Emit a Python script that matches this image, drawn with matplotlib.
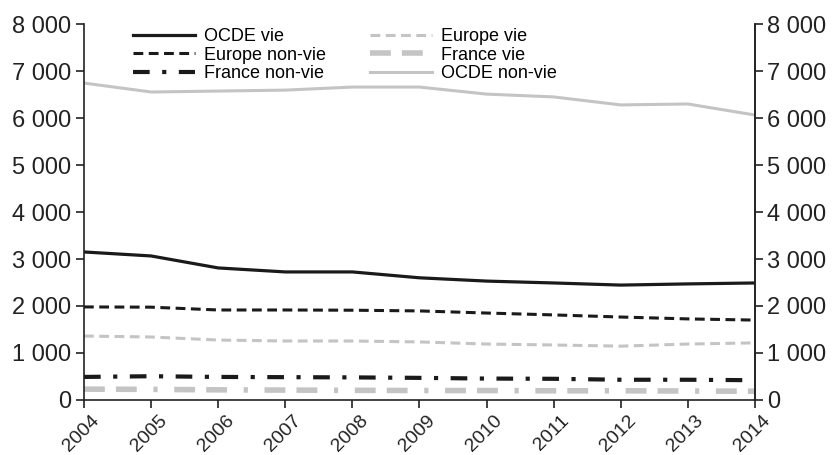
import matplotlib.pyplot as plt
from matplotlib.ticker import FuncFormatter
from matplotlib.transforms import ScaledTranslation

plt.rcParams['font.family'] = ['Liberation Sans', 'DejaVu Sans']

years = [2004, 2005, 2006, 2007, 2008, 2009, 2010, 2011, 2012, 2013, 2014]
ocde_vie = [3150, 3065, 2810, 2725, 2725, 2600, 2530, 2490, 2445, 2470, 2490]
europe_non_vie = [1980, 1975, 1915, 1915, 1910, 1895, 1850, 1810, 1765, 1725, 1700]
france_non_vie = [490, 505, 490, 485, 480, 470, 455, 450, 430, 430, 420]
europe_vie = [1360, 1340, 1275, 1255, 1255, 1235, 1190, 1170, 1145, 1190, 1215]
france_vie = [230, 225, 215, 210, 205, 200, 200, 195, 195, 190, 185]
ocde_non_vie = [6745, 6555, 6575, 6595, 6660, 6660, 6510, 6450, 6280, 6300, 6065]

gray = '#c4c4c4'
dark = '#1a1a1a'
fmt = FuncFormatter(lambda v, p: '{:,.0f}'.format(v).replace(',', ' '))

fig = plt.figure(figsize=(8.34, 4.55), dpi=100)
ax = fig.add_axes([0.1007, 0.121, 0.8045, 0.826])

ax.plot(years, ocde_vie, color=dark, lw=2.3, label='OCDE vie')
ax.plot(years, europe_non_vie, color=dark, lw=2.2, ls=(0, (3.2, 1.8)), label='Europe non-vie')
ax.plot(years, france_non_vie, color=dark, lw=3, ls=(0, (4, 3, 1, 3)), label='France non-vie')
ax.plot(years, europe_vie, color=gray, lw=2.2, ls=(0, (3.2, 1.8)), label='Europe vie')
ax.plot(years, france_vie, color=gray, lw=4, ls=(0, (3.75, 2, 3.75, 3, 0.75, 3)), label='France vie')
ax.plot(years, ocde_non_vie, color=gray, lw=2.2, label='OCDE non-vie')

ax.set_xlim(2004, 2014)
ax.set_ylim(0, 8000)
ax.set_yticks(range(0, 8001, 1000))
ax.yaxis.set_major_formatter(fmt)
ax.set_xticks(years)
ax.set_xticklabels([str(y) for y in years], rotation=45, ha='right', rotation_mode='anchor')
ax.tick_params(axis='y', labelsize=17, colors='#222222', length=6, width=1.2, direction='out', pad=3)
ax.tick_params(axis='x', labelsize=14, colors='#222222', length=6, width=1.2, direction='out', pad=3)
shift = ScaledTranslation(7 / 100, 0, fig.dpi_scale_trans)
for lab in ax.get_xticklabels():
    lab.set_transform(lab.get_transform() + shift)
ax.spines['top'].set_visible(False)
for s in ['left', 'right', 'bottom']:
    ax.spines[s].set_linewidth(1.2)
    ax.spines[s].set_color('#222222')

ax2 = ax.twinx()
ax2.set_ylim(0, 8000)
ax2.set_yticks(range(0, 8001, 1000))
ax2.yaxis.set_major_formatter(fmt)
ax2.tick_params(axis='y', labelsize=17, colors='#222222', length=6, width=1.2, direction='out', pad=3)
for s in ['top', 'left', 'bottom']:
    ax2.spines[s].set_visible(False)
ax2.spines['right'].set_linewidth(1.2)
ax2.spines['right'].set_color('#222222')

ax.legend(ncol=2, loc='upper left', bbox_to_anchor=(0.073, 0.99), frameon=False,
          fontsize=13, handlelength=3.45, handletextpad=0.5, columnspacing=2.4,
          labelspacing=0.1, borderpad=0, borderaxespad=0)

fig.savefig('out.png', dpi=100)
